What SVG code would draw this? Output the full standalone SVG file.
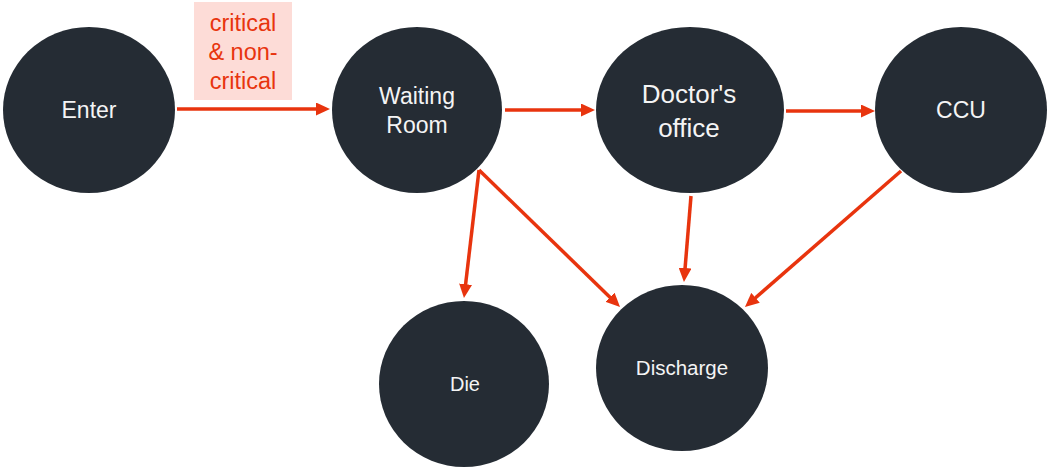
<svg xmlns="http://www.w3.org/2000/svg" width="1051" height="470" viewBox="0 0 1051 470">
<style>
.node{fill:#252c34}
.lbl{fill:#f4f4f4;font-family:"Liberation Sans",Arial,sans-serif;text-anchor:middle}
.edge{stroke:#e8340e;stroke-width:3.5;fill:none}
.elbl{fill:#e8340e;font-family:"Liberation Sans",Arial,sans-serif;font-size:23.5px;text-anchor:middle}
</style>
<defs>
<marker id="ah" markerUnits="userSpaceOnUse" markerWidth="15" markerHeight="13" refX="6" refY="6.5" orient="auto">
<path d="M0,0 L14,6.5 L0,13 z" fill="#e8340e"/>
</marker>
</defs>
<rect width="1051" height="470" fill="#ffffff"/>
<g id="edge-label">
<rect x="194" y="2" width="98" height="98" fill="#fddcd7"/>
<text class="elbl" x="243" y="31">critical</text>
<text class="elbl" x="243" y="60">&amp; non-</text>
<text class="elbl" x="243" y="89">critical</text>
</g>
<g id="connectors">
<path class="edge" marker-end="url(#ah)" d="M177,109 L322,109"/>
<path class="edge" marker-end="url(#ah)" d="M505,110 L587,110"/>
<path class="edge" marker-end="url(#ah)" d="M786,111 L867,111"/>
<path class="edge" marker-end="url(#ah)" d="M479,170 L464.9,290.1"/>
<path class="edge" marker-end="url(#ah)" d="M479,170 L614.3,301.4"/>
<path class="edge" marker-end="url(#ah)" d="M691,196 L684.6,274"/>
<path class="edge" marker-end="url(#ah)" d="M901,171 L751,301.7"/>
</g>
<g id="enter">
<ellipse class="node" cx="89" cy="110" rx="86" ry="83"/>
<text class="lbl" x="89" y="118" font-size="23">Enter</text>
</g>
<g id="waiting-room">
<ellipse class="node" cx="417" cy="110" rx="85" ry="83"/>
<text class="lbl" x="417" y="104" font-size="23">Waiting</text>
<text class="lbl" x="417" y="133" font-size="23">Room</text>
</g>
<g id="doctors-office">
<ellipse class="node" cx="690" cy="110" rx="94" ry="83"/>
<text class="lbl" x="689" y="103" font-size="26">Doctor's</text>
<text class="lbl" x="689" y="137" font-size="26">office</text>
</g>
<g id="ccu">
<ellipse class="node" cx="961" cy="110" rx="86" ry="83"/>
<text class="lbl" x="961" y="118" font-size="23">CCU</text>
</g>
<g id="die">
<ellipse class="node" cx="464" cy="384" rx="85" ry="83"/>
<text class="lbl" x="465" y="391" font-size="20">Die</text>
</g>
<g id="discharge">
<ellipse class="node" cx="682" cy="368" rx="86" ry="83"/>
<text class="lbl" x="682" y="375" font-size="20.5">Discharge</text>
</g>
</svg>
